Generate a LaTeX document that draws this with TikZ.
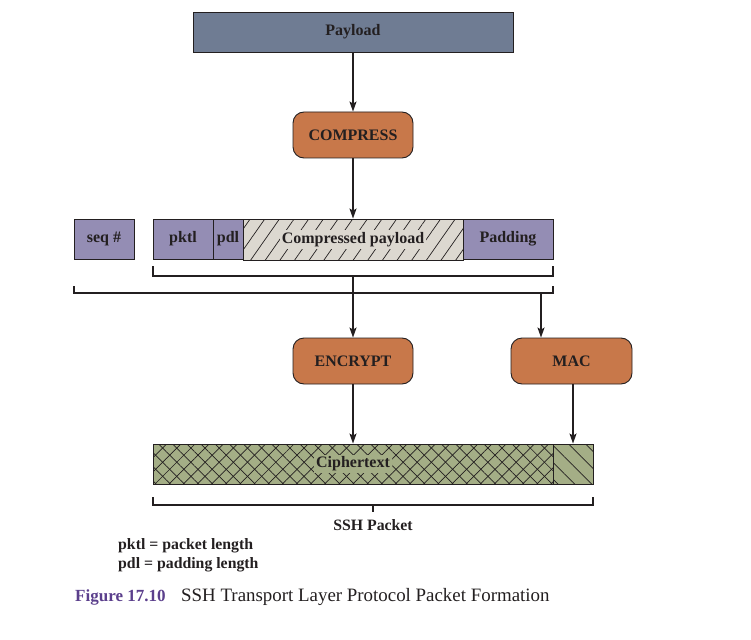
\documentclass[tikz,border=0pt]{standalone}
\usepackage{fontspec}
\setmainfont{Liberation Serif}
\usetikzlibrary{arrows.meta,patterns.meta}
\definecolor{payc}{HTML}{6F7C93}
\definecolor{orc}{HTML}{C8784A}
\definecolor{puc}{HTML}{948DB4}
\definecolor{lgc}{HTML}{DCD8D0}
\definecolor{grc}{HTML}{A4AE86}
\definecolor{capc}{HTML}{5B3F8C}
\definecolor{inkc}{HTML}{231F20}
\begin{document}
\begin{tikzpicture}[x=1pt,y=1pt,
  box/.style={draw=inkc, line width=0.9pt, inner sep=0pt, text=inkc,
    font=\fontsize{16}{18}\selectfont\bfseries},
  field/.style={box, fill=puc, minimum height=40pt},
  proc/.style={box, fill=orc, rounded corners=11pt, minimum width=120pt, minimum height=46pt},
  arr/.style={draw=inkc, line width=1.5pt, -{Stealth[length=10pt,width=7pt,inset=2pt]}},
  brk/.style={draw=inkc, line width=1.8pt},
  lbl/.style={text=inkc, inner sep=0pt, font=\fontsize{15.8}{18}\selectfont\bfseries}
]
\useasboundingbox (0,0) rectangle (751,-639);

\node[box, fill=payc, minimum width=320pt, minimum height=40pt] (payload) at (353,-32) {Payload};
\node[proc] (compress) at (353,-135) {COMPRESS};

\node[field, minimum width=60pt] (seq) at (104,-239) {seq \#};
\node[field, minimum width=60pt] (pktl) at (183,-239) {pktl};
\node[field, minimum width=30pt] (pdl) at (228,-239) {pdl};
\node[box, minimum width=220pt, minimum height=41pt, fill=lgc,
  postaction={pattern={Lines[angle=55,distance=12pt,line width=0.7pt]}, pattern color=inkc}]
  (cpay) at (353,-239.5) {};
\node[box, draw=none, fill=lgc, inner sep=2pt] (cpayt) at (cpay) {Compressed payload};
\node[field, minimum width=90pt] (padding) at (508,-239) {Padding};

% bracket 1
\coordinate (b1l) at (153,-266);
\coordinate (b1r) at (553,-266);
\coordinate (b1c) at (353,-276);
\draw[brk] (b1l) -- ++(0,-10) -- ++(400,0) -- (b1r);
% bracket 2
\coordinate (b2l) at (74,-286);
\coordinate (b2r) at (553,-286);
\coordinate (b2c) at (353,-293);
\coordinate (b2m) at (541,-293);
\draw[brk] (b2l) -- ++(0,-7) -- ++(479,0) -- (b2r);
\draw[brk] (b1c) -- (b2c);

\draw[arr] (payload) -- (compress);
\draw[arr] (compress) -- (cpay);

\node[proc] (encrypt) at (353,-361) {ENCRYPT};
\node[proc, minimum width=121pt] (mac) at (571.5,-361) {MAC};

\draw[arr] (b2c) -- (encrypt.north);
\draw[arr] (b2m) -- (b2m |- mac.north);

\node[box, minimum width=400pt, minimum height=40pt, fill=grc,
  postaction={pattern={Lines[angle=45,distance=10pt,line width=0.7pt]}, pattern color=inkc},
  postaction={pattern={Lines[angle=-45,distance=10pt,line width=0.7pt]}, pattern color=inkc}]
  (cipher) at (353,-464) {};
\node[box, draw=none, fill=grc, inner sep=2pt] (ciphert) at (cipher) {Ciphertext};
\node[box, minimum width=40pt, minimum height=40pt, fill=grc,
  postaction={pattern={Lines[angle=-45,distance=12pt,line width=0.7pt]}, pattern color=inkc}]
  (macpart) at (573,-464) {};

\draw[arr] (encrypt.south) -- (cipher.north);
\draw[arr] (macpart.north |- mac.south) -- (macpart.north);

% bracket 3
\coordinate (b3l) at (153,-497);
\coordinate (b3r) at (593,-497);
\coordinate (b3c) at (373,-505);
\coordinate (b3t) at (373,-512);
\draw[brk] (b3l) -- ++(0,-8) -- ++(440,0) -- (b3r);
\draw[brk] (b3c) -- (b3t);
\node[lbl] (ssh) at (373,-525) {SSH Packet};

\node[lbl, anchor=west] (leg1) at (118,-546) {pktl = packet length};
\node[lbl, anchor=west] (leg2) at (118,-565) {pdl = padding length};

\node[anchor=west, inner sep=0pt, text=capc, font=\fontsize{17}{20}\selectfont\bfseries] (fig) at (75,-597) {Figure 17.10};
\node[anchor=west, inner sep=0pt, text=inkc, font=\fontsize{18.9}{20}\selectfont] (cap) at (181,-597) {SSH Transport Layer Protocol Packet Formation};
\end{tikzpicture}
\end{document}
